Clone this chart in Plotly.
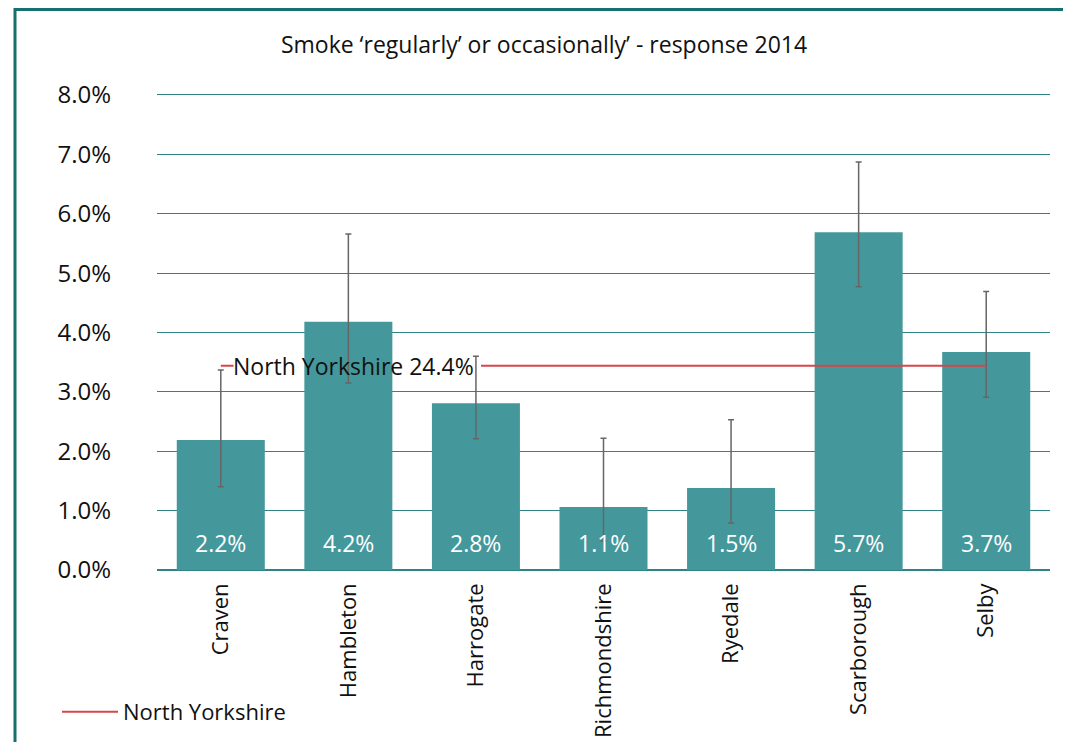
import plotly.graph_objects as go

categories = ["Craven", "Hambleton", "Harrogate", "Richmondshire", "Ryedale", "Scarborough", "Selby"]
values = [2.19, 4.18, 2.81, 1.06, 1.38, 5.69, 3.67]
value_labels = ["2.2%", "4.2%", "2.8%", "1.1%", "1.5%", "5.7%", "3.7%"]
ci_lower = [1.40, 3.15, 2.21, 0.49, 0.79, 4.77, 2.91]
ci_upper = [3.37, 5.66, 3.60, 2.22, 2.53, 6.87, 4.69]
ny_value = 3.44
ny_label = "North Yorkshire 24.4%"
ny_name = "North Yorkshire"
title_text = "Smoke \u2018regularly\u2019 or occasionally\u2019 - response 2014"
y_ticks = [0, 1, 2, 3, 4, 5, 6, 7, 8]
y_tick_labels = ["0.0%", "1.0%", "2.0%", "3.0%", "4.0%", "5.0%", "6.0%", "7.0%", "8.0%"]

FONT = "Open Sans"
BAR = "#44989c"
GRID = "#2f8384"
RED = "#d9454a"
FRAME = "#16706f"

x_idx = list(range(len(categories)))

fig = go.Figure()
fig.add_trace(go.Bar(
    x=x_idx, y=values, width=0.69,
    marker=dict(color=BAR, line=dict(width=0)),
    error_y=dict(type="data", symmetric=False,
                 array=[u - v for u, v in zip(ci_upper, values)],
                 arrayminus=[v - l for v, l in zip(values, ci_lower)],
                 color="#666666", thickness=1.5, width=3),
    showlegend=False, hoverinfo="skip",
))

# value labels near the base of each bar
for xi, lab in zip(x_idx, value_labels):
    fig.add_annotation(x=xi, y=0, xref="x", yref="y", text=lab, showarrow=False,
                       yanchor="middle", yshift=27,
                       font=dict(size=23, color="white", family=FONT))

# North Yorkshire reference line, broken around its label
gap_start = x_idx[0] + 0.10
gap_end = x_idx[2] + 0.04
label_center = x_idx[1] + 0.04
fig.add_trace(go.Scatter(
    x=[x_idx[0], gap_start], y=[ny_value, ny_value], mode="lines",
    line=dict(color=RED, width=2), name=ny_name, showlegend=True,
))
fig.add_trace(go.Scatter(
    x=[gap_end, x_idx[-1]], y=[ny_value, ny_value], mode="lines",
    line=dict(color=RED, width=2), name=ny_name, showlegend=False,
))
fig.add_annotation(
    x=label_center, y=ny_value, xref="x", yref="y",
    text=ny_label, showarrow=False,
    font=dict(size=23, color="#111111", family=FONT),
)

# figure sits 8px inside the page (body margin)
W, H = 1063, 734
L, R, T, B = 149, 21, 84, 172
pw, ph = W - L - R, H - T - B
fig.add_shape(type="rect", xref="paper", yref="paper",
              x0=(7 - L) / pw, x1=(1060 - L) / pw,
              y0=(H - B - 740) / ph, y1=(H - B - 1.5) / ph,
              line=dict(color=FRAME, width=3), fillcolor="rgba(0,0,0,0)", layer="below")

fig.update_layout(
    width=W, height=H,
    margin=dict(l=L, r=R, t=T, b=B, autoexpand=False),
    paper_bgcolor="white", plot_bgcolor="white",
    font=dict(family=FONT, size=22, color="#111111"),
    title=dict(text=title_text, x=536 / W, xref="container", xanchor="center",
               y=1 - 37 / H, yref="container", yanchor="middle",
               font=dict(size=23, family=FONT, color="#111111")),
    legend=dict(x=(49 - L) / pw, y=(H - B - 704) / ph, xanchor="left", yanchor="middle",
                bgcolor="rgba(0,0,0,0)", font=dict(size=22, family=FONT), itemwidth=56),
    xaxis=dict(tickvals=x_idx, ticktext=categories, range=[-0.5, len(categories) - 0.5],
               tickangle=-90, showgrid=False, zeroline=False, showline=False, automargin=False,
               ticks="", ticklabelstandoff=8, tickfont=dict(size=22, family=FONT)),
    yaxis=dict(range=[0, 8.05], tickvals=y_ticks, ticktext=y_tick_labels, automargin=False,
               showgrid=True, gridcolor=GRID, gridwidth=1.2, zeroline=True,
               zerolinecolor=GRID, zerolinewidth=1.5, showline=False, ticks="",
               ticklabelstandoff=45, tickfont=dict(size=24, family=FONT)),
)

fig.write_html("out.html")
